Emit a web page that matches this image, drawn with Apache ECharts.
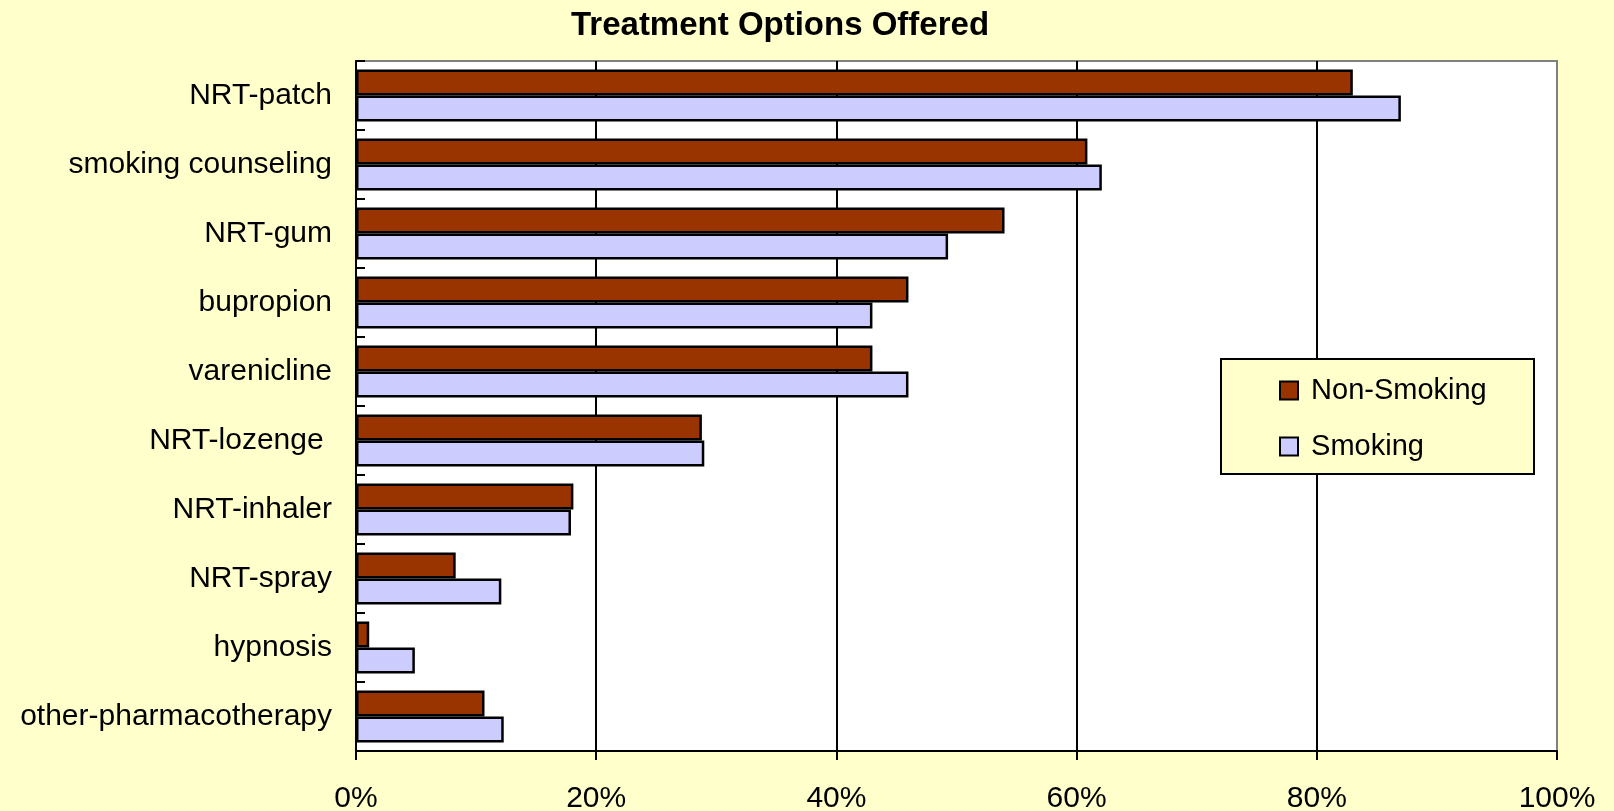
<!DOCTYPE html>
<html>
<head>
<meta charset="utf-8">
<title>Treatment Options Offered</title>
<script src="https://cdn.jsdelivr.net/npm/echarts@6/dist/echarts.min.js"></script>
<style>
  html, body { margin: 0; padding: 0; background: #FFFFCC; }
  #chart { width: 1614px; height: 811px; }
</style>
</head>
<body>
<div id="chart"></div>
<script>
// Treatment options, listed top to bottom
const categories = [
  'NRT-patch',
  'smoking counseling',
  'NRT-gum',
  'bupropion',
  'varenicline',
  'NRT-lozenge ',
  'NRT-inhaler',
  'NRT-spray',
  'hypnosis',
  'other-pharmacotherapy'
];

// Share of sites offering each option (%)
const nonSmoking = [83, 60.9, 54, 46, 43, 28.8, 18.1, 8.3, 1.1, 10.7];
const smoking    = [87, 62.1, 49.3, 43, 46, 29, 17.9, 12.1, 4.9, 12.3];

const seriesNames = ['Non-Smoking', 'Smoking'];
const xTicks = { min: 0, max: 100, interval: 20 };

const FONT = '"Liberation Sans", Arial, sans-serif';

const chart = echarts.init(document.getElementById('chart'), null, { renderer: 'canvas' });

chart.setOption({
  backgroundColor: '#FFFFCC',
  animation: false,
  title: {
    text: 'Treatment Options Offered',
    left: 571,
    top: 9,
    padding: 0,
    textStyle: { fontFamily: FONT, fontSize: 33, fontWeight: 'bold', color: '#000' }
  },
  graphic: [{
    type: 'rect',
    z: 3,
    shape: { x: 1221, y: 359, width: 313, height: 115 },
    style: { fill: '#FFFFCC', stroke: '#000', lineWidth: 2 }
  }],
  legend: {
    z: 5,
    orient: 'vertical',
    left: 1279,
    top: 376,
    padding: 0,
    itemWidth: 18,
    itemHeight: 18,
    itemGap: 27,
    icon: 'rect',
    formatter: ' {name}',
    textStyle: { fontFamily: FONT, fontSize: 29, color: '#000', lineHeight: 29 },
    data: seriesNames
  },
  grid: {
    left: 356,
    right: 57,
    top: 61,
    bottom: 60,
    outerBoundsMode: 'none',
    containLabel: false,
    show: true,
    backgroundColor: '#FFFFFF',
    borderColor: '#808080',
    borderWidth: 2
  },
  xAxis: {
    type: 'value',
    min: xTicks.min,
    max: xTicks.max,
    interval: xTicks.interval,
    axisLine: { show: true, lineStyle: { color: '#000', width: 2 } },
    axisTick: { show: true, inside: false, length: 9, lineStyle: { color: '#000', width: 2 } },
    axisLabel: {
      formatter: '{value}%',
      margin: 33,
      fontFamily: FONT,
      fontSize: 30,
      color: '#000'
    },
    splitLine: {
      show: true,
      showMinLine: false,
      showMaxLine: false,
      lineStyle: { color: '#000', width: 2 }
    }
  },
  yAxis: {
    type: 'category',
    inverse: true,
    data: categories,
    axisLine: { show: true, lineStyle: { color: '#000', width: 2 } },
    axisTick: { show: true, inside: true, length: 9, lineStyle: { color: '#000', width: 2 } },
    axisLabel: {
      margin: 24,
      fontFamily: FONT,
      fontSize: 30,
      color: '#000'
    },
    splitLine: { show: false }
  },
  series: [
    {
      name: seriesNames[0],
      type: 'bar',
      data: nonSmoking,
      barWidth: 26,
      barGap: '0%',
      itemStyle: { color: '#993300', borderColor: '#000', borderWidth: 2.5 }
    },
    {
      name: seriesNames[1],
      type: 'bar',
      data: smoking,
      barWidth: 26,
      barGap: '0%',
      itemStyle: { color: '#CCCCFF', borderColor: '#000', borderWidth: 2.5 }
    }
  ]
});
</script>
</body>
</html>
